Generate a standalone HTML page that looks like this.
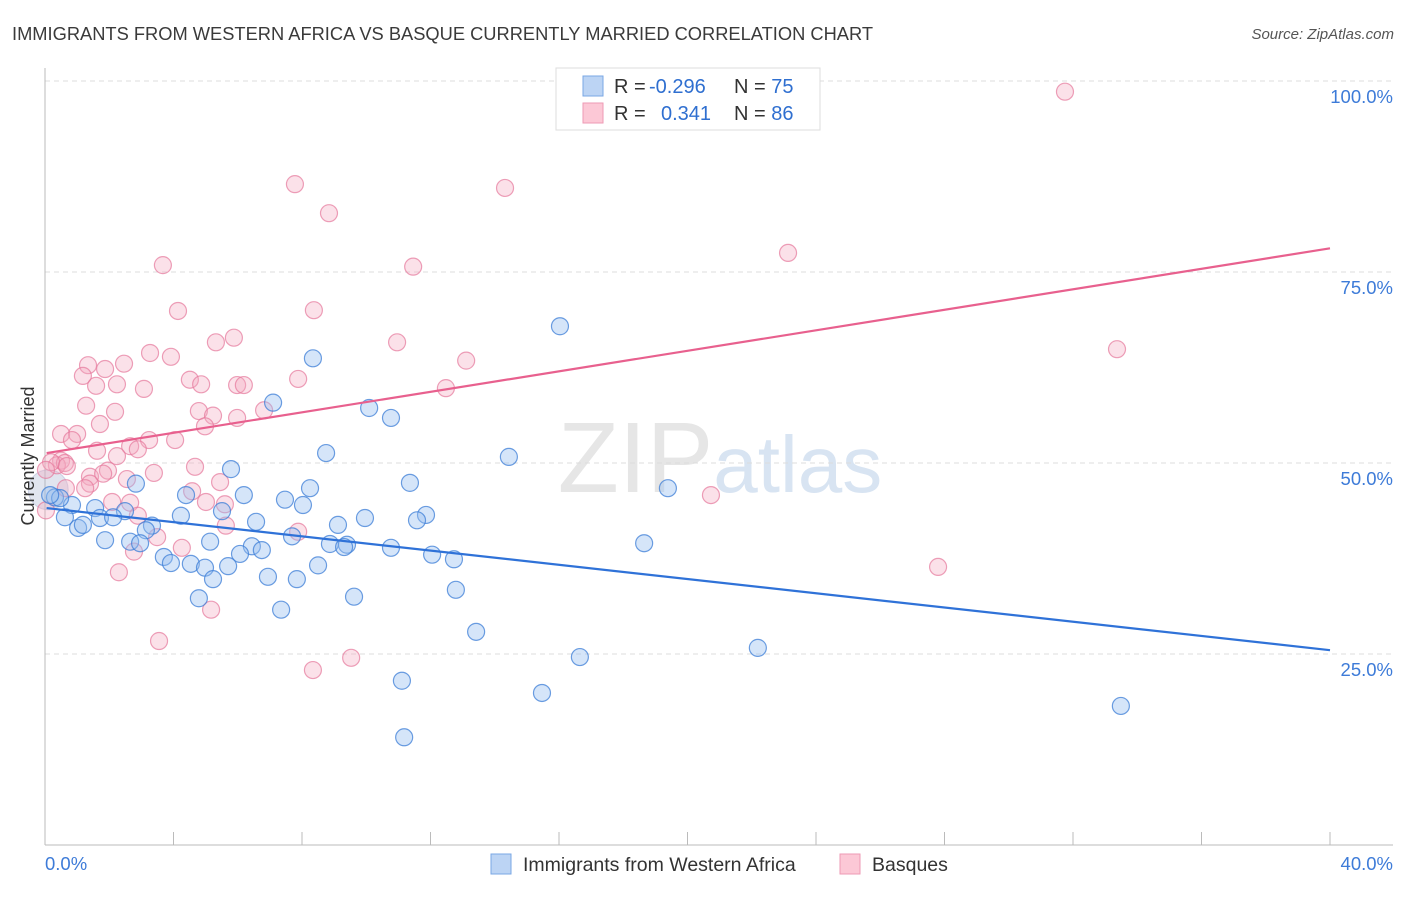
<!DOCTYPE html>
<html><head><meta charset="utf-8"><style>
body{margin:0;background:#fff;font-family:"Liberation Sans",sans-serif}
svg text{font-family:"Liberation Sans",sans-serif}
</style></head><body>
<svg id="chart" width="1406" height="892" viewBox="0 0 1406 892" xmlns="http://www.w3.org/2000/svg">
<text x="12" y="40" font-size="18.3" fill="#3a3a3a">IMMIGRANTS FROM WESTERN AFRICA VS BASQUE CURRENTLY MARRIED CORRELATION CHART</text>
<text x="1394" y="39" font-size="15" fill="#555" text-anchor="end" font-style="italic">Source: ZipAtlas.com</text>
<text x="720" y="492" font-size="100" fill="#e6e6e6" text-anchor="middle" font-family="Liberation Serif">ZIP<tspan fill="#d8e4f2" font-family="Liberation Sans" font-size="80">atlas</tspan></text>
<g id="grid"></g>
<g id="axes"></g>
<g id="pts"></g>
<g id="lines"></g>
<text transform="translate(34,456) rotate(-90)" font-size="18" fill="#333" text-anchor="middle">Currently Married</text>
<g>
<rect x="556" y="68" width="264" height="62" fill="#fff" stroke="#ddd"/>
<rect x="583" y="76" width="20" height="20" fill="#bcd4f4" stroke="#7aa7e4"/>
<rect x="583" y="103" width="20" height="20" fill="#fcc8d6" stroke="#ee9ab4"/>
<text x="614" y="93" font-size="20" fill="#333">R = <tspan fill="#2f6fd0" x="649">-0.296</tspan></text>
<text x="734" y="93" font-size="20" fill="#333">N = <tspan fill="#2f6fd0">75</tspan></text>
<text x="614" y="120" font-size="20" fill="#333">R = <tspan fill="#2f6fd0" x="661">0.341</tspan></text>
<text x="734" y="120" font-size="20" fill="#333">N = <tspan fill="#2f6fd0">86</tspan></text>
</g>
<g>
<rect x="491" y="854" width="20" height="20" fill="#bcd4f4" stroke="#7aa7e4"/>
<text x="523" y="871" font-size="19.5" fill="#333">Immigrants from Western Africa</text>
<rect x="840" y="854" width="20" height="20" fill="#fcc8d6" stroke="#ee9ab4"/>
<text x="872" y="871" font-size="19.5" fill="#333">Basques</text>
</g>
</svg>
<script>
const blueX=[16.03,8.34,7.10,10.09,10.77,8.75,14.44,5.79,11.36,2.83,19.39,8.25,4.39,6.19,7.47,8.03,5.51,2.49,1.56,0.84,0.62,1.71,2.12,11.86,11.58,9.96,9.12,6.57,4.23,3.33,3.14,1.03,1.18,1.87,2.65,2.96,7.69,5.14,6.44,8.87,9.40,9.31,10.77,18.65,6.07,6.75,12.05,12.73,3.70,3.92,4.54,4.98,5.70,8.50,6.94,5.23,7.84,12.79,4.79,9.62,7.35,13.42,16.65,22.19,11.11,15.47,33.49,11.18,0.31,0.47,0.16];
const blueY=[67.9,63.7,57.9,57.2,55.9,51.3,50.8,49.2,47.4,47.3,46.7,46.7,45.8,45.8,45.2,44.5,43.7,43.7,44.1,44.5,42.9,42.8,42.9,43.2,42.5,42.8,41.9,42.3,43.1,41.8,41.2,41.5,41.9,39.9,39.7,39.5,40.4,39.7,39.1,39.4,39.3,39.0,38.9,39.5,38.1,38.6,38.0,37.4,37.7,36.9,36.8,36.3,36.5,36.6,35.1,34.8,34.8,33.4,32.3,32.5,30.8,27.9,24.6,25.8,21.5,19.9,18.2,14.1,45.5,45.4,45.8];
const pinkX=[31.75,7.78,14.32,8.84,23.13,3.67,11.46,4.14,8.37,5.88,5.32,10.96,3.27,3.92,13.11,1.34,2.46,1.87,1.18,4.51,7.88,4.86,1.59,2.24,3.08,5.98,6.19,12.48,1.28,2.18,4.79,5.23,5.98,6.82,4.98,0.50,1.00,1.71,0.84,2.65,3.24,4.05,2.89,1.62,2.24,0.50,0.37,0.62,0.19,0.68,1.96,1.40,1.81,4.67,1.40,3.39,0.65,2.55,5.45,4.58,2.09,2.65,5.01,5.60,2.89,20.73,5.63,7.88,3.49,4.26,2.77,2.30,27.80,5.17,3.55,8.34,9.53,33.37,0.03,0.03,1.25];
const pinkY=[98.6,86.5,86.0,82.7,77.5,75.9,75.7,69.9,70.0,66.4,65.8,65.8,64.4,63.9,63.4,62.8,63.0,62.3,61.4,60.9,61.0,60.3,60.1,60.3,59.7,60.2,60.2,59.8,57.5,56.7,56.8,56.2,55.9,56.9,54.8,53.8,53.8,55.1,53.0,52.2,53.0,53.0,51.8,51.6,50.9,50.3,49.7,50.0,50.1,49.6,49.0,48.2,48.6,49.5,47.3,48.7,46.7,47.9,47.5,46.3,44.9,44.8,44.9,44.6,43.1,45.8,41.8,41.0,40.3,38.9,38.4,35.7,36.4,30.8,26.7,22.9,24.5,64.9,43.8,49.1,46.7];
const blueTrend=[44.1,25.5];
const pinkTrend=[51.3,78.1];
const yTicks=[25,50,75,100];
const xTickLabels=["0.0%","40.0%"];

const NS="http://www.w3.org/2000/svg";
const X0=45,X1=1330,XMAX=40,Y0=845,YPX=7.64;
const sx=v=>X0+v/XMAX*(X1-X0);
const sy=v=>Y0-v*YPX;
function mk(tag,attrs,parent){const e=document.createElementNS(NS,tag);for(const k in attrs)e.setAttribute(k,attrs[k]);parent.appendChild(e);return e;}
const grid=document.getElementById('grid'),axes=document.getElementById('axes'),pts=document.getElementById('pts'),lines=document.getElementById('lines');
yTicks.forEach(t=>{
  const l=mk('line',{x1:45,x2:1393,y1:sy(t),y2:sy(t),stroke:'#dcdcdc','stroke-dasharray':'5,4'},grid);
  
  
  const tx=mk('text',{x:1393,y:sy(t)+22,'font-size':18.5,fill:'#3d7bd8','text-anchor':'end'},axes);
  tx.textContent=t.toFixed(1)+'%';
  
  
});
const ya=mk('line',{x1:45,x2:45,y1:68,y2:845,stroke:'#bbb'},axes);


const xa=mk('line',{x1:45,x2:1393,y1:845,y2:845,stroke:'#bbb'},axes);


for(let i=0;i<=10;i++){
  const t=mk('line',{x1:sx(i*4),x2:sx(i*4),y1:832,y2:845,stroke:'#bbb'},axes);
  
  
}
[[0,'start',45],[40,'end',1393]].forEach((d,i)=>{
  const t=mk('text',{x:d[2],y:870,'font-size':18.5,fill:'#3d7bd8','text-anchor':d[1]},axes);
  t.textContent=xTickLabels[i];
  
  
});
const big=mk('circle',{cx:sx(0.1),cy:sy(46.5),r:20,fill:'rgba(170,180,210,0.35)',stroke:'rgba(150,160,200,0.4)'},pts);


pinkX.forEach((x,i)=>{
  const c=mk('circle',{cx:sx(x),cy:sy(pinkY[i]),r:8.5,fill:'rgba(244,170,192,0.35)',stroke:'rgba(230,120,155,0.7)','stroke-width':1.2},pts);
  
  
});
blueX.forEach((x,i)=>{
  const c=mk('circle',{cx:sx(x),cy:sy(blueY[i]),r:8.5,fill:'rgba(150,190,240,0.4)',stroke:'rgba(60,125,215,0.75)','stroke-width':1.2},pts);
  
  
});
const bl=mk('line',{x1:sx(0.05),y1:sy(blueTrend[0]),x2:sx(40),y2:sy(blueTrend[1]),stroke:'#2f72d8','stroke-width':2.2},lines);


const pl=mk('line',{x1:sx(0.05),y1:sy(pinkTrend[0]),x2:sx(40),y2:sy(pinkTrend[1]),stroke:'#e8608e','stroke-width':2.2},lines);


</script>
</body></html>
